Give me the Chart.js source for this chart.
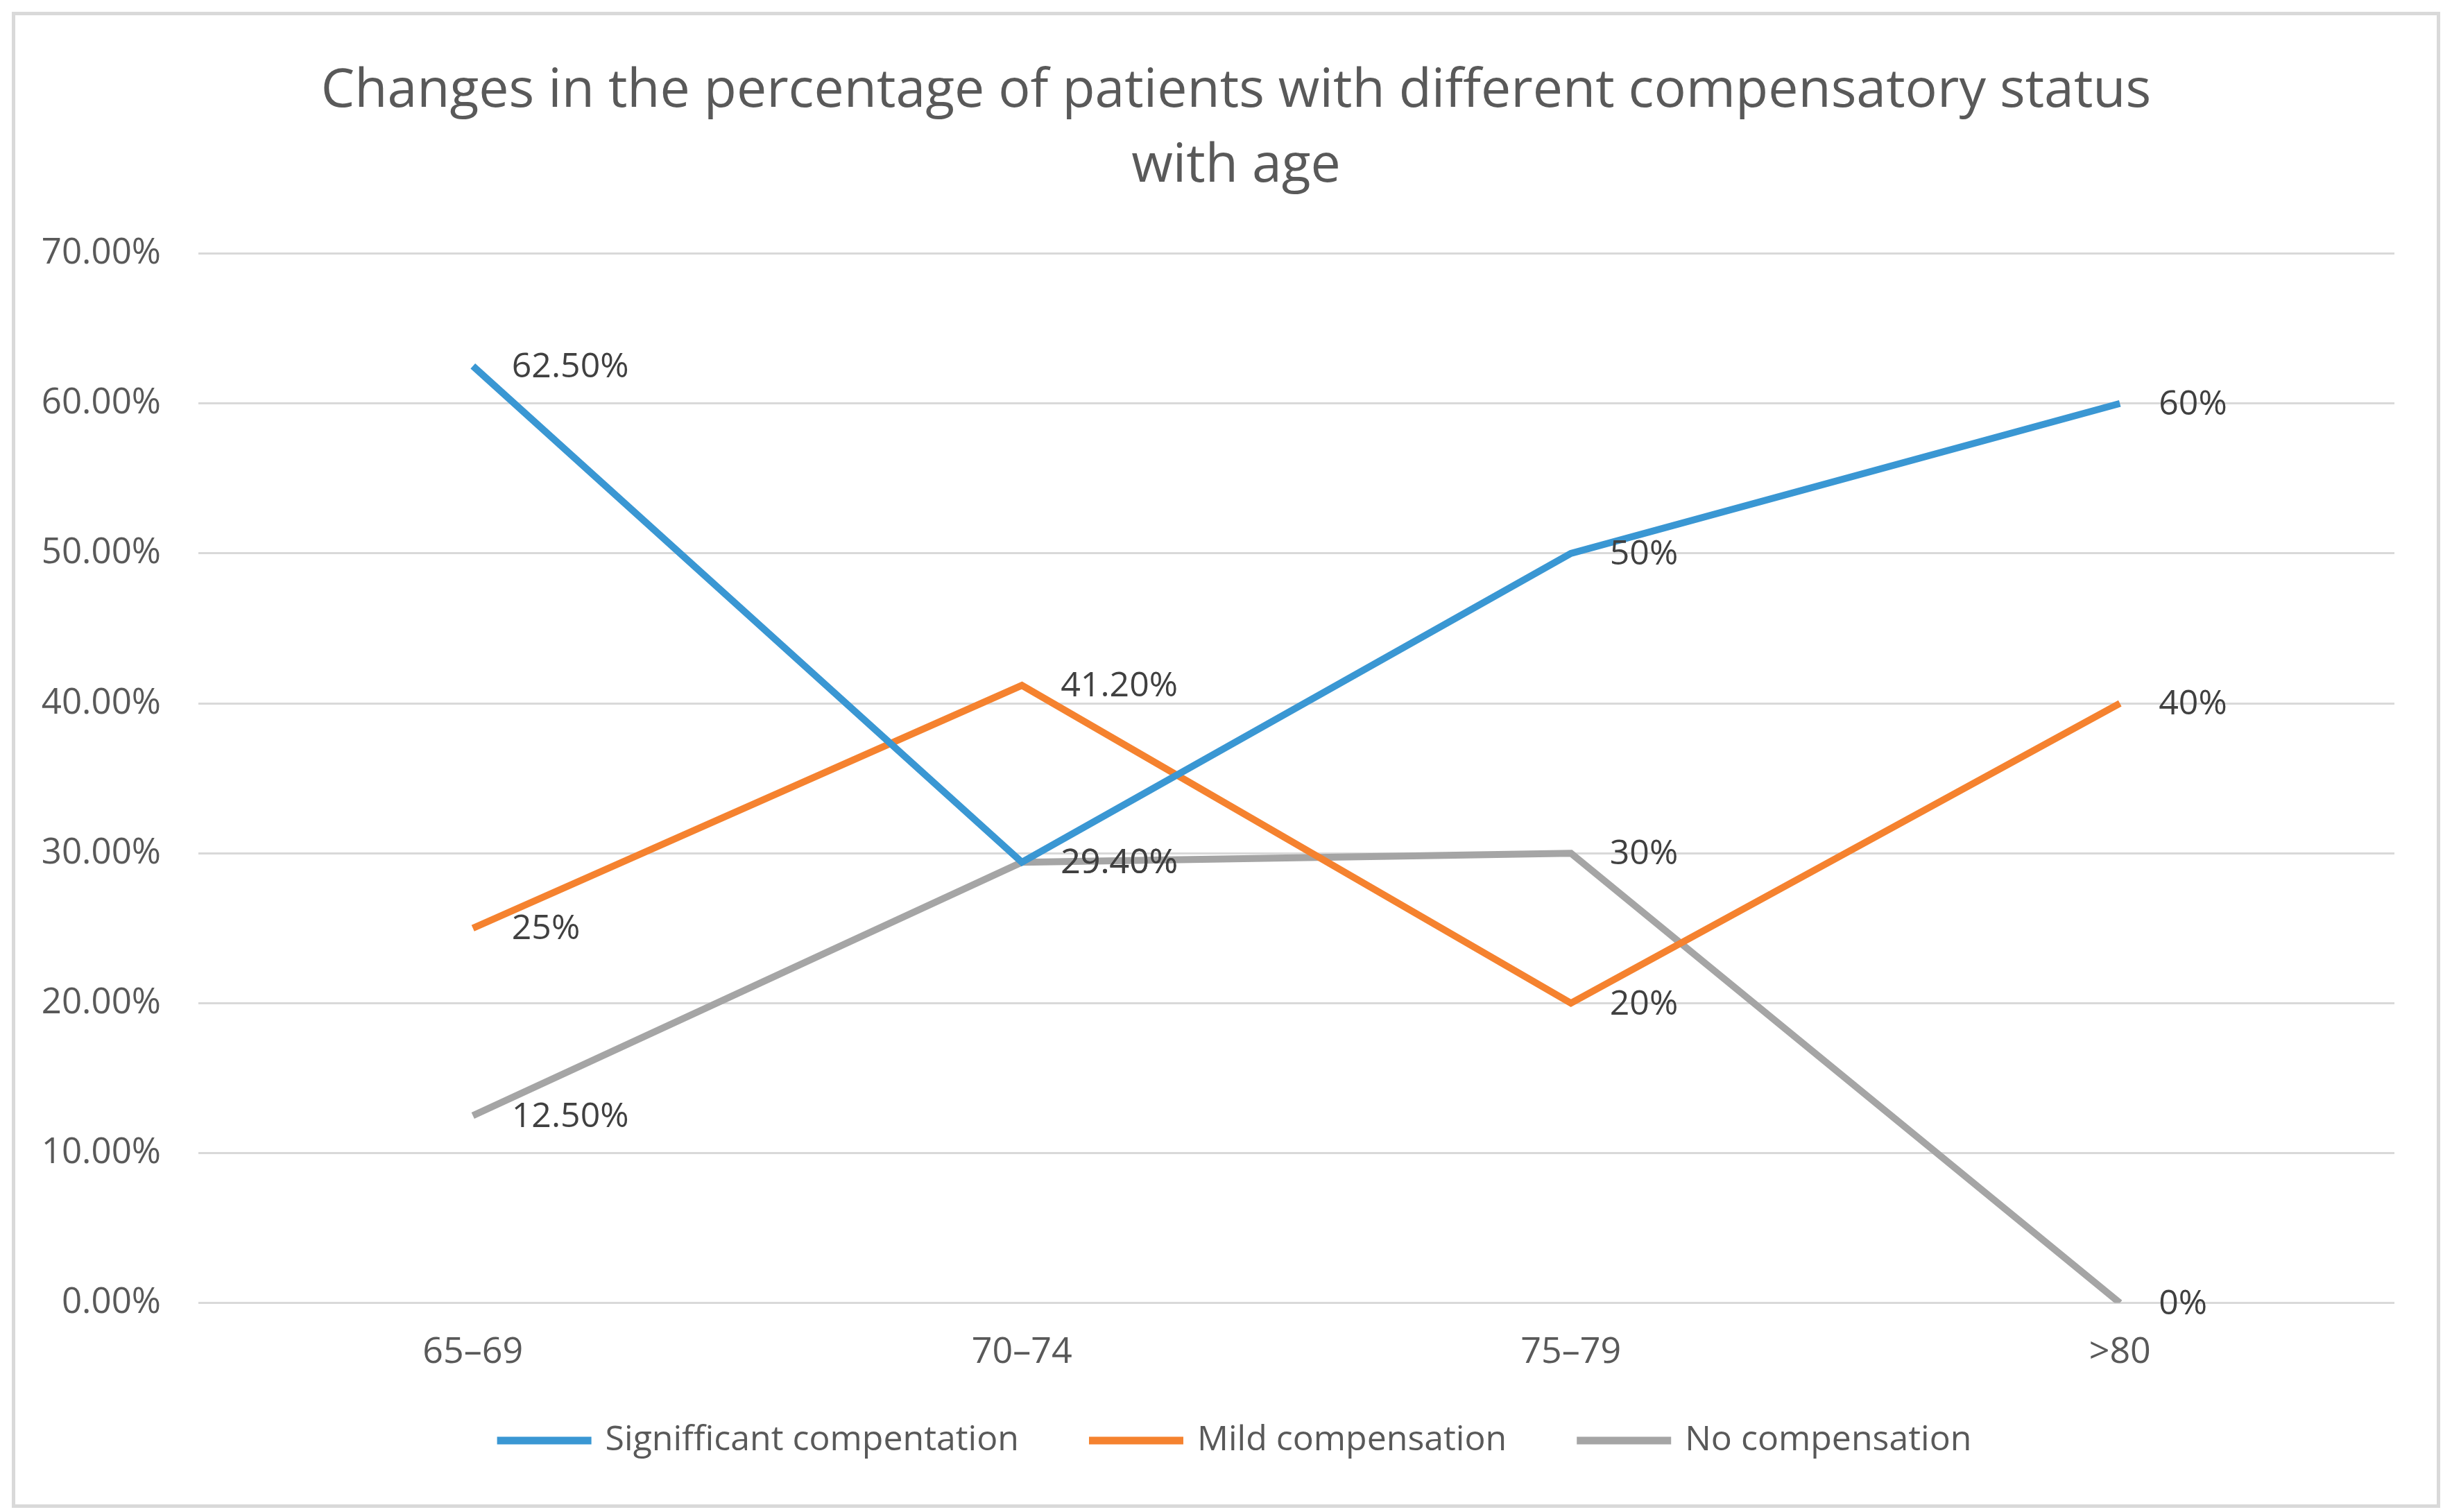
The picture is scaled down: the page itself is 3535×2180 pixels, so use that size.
<!DOCTYPE html>
<html>
<head>
<meta charset="utf-8">
<script src="https://cdn.jsdelivr.net/npm/chart.js@4"></script>
<style>
  html, body { margin: 0; padding: 0; background: #ffffff; }
  #frame { position: absolute; left: 17px; top: 17px; width: 3491px; height: 2147px; border: 5px solid #d9d9d9; background: #fff; }
  #c { display: block; }
</style>
</head>
<body>
<div id="frame"><canvas id="c" width="3491" height="2147"></canvas></div>
<script>
const categories = ["65\u201369", "70\u201374", "75\u201379", ">80"];
const seriesNames = ["Signifficant compentation", "Mild compensation", "No compensation"];
const significant = [62.5, 29.4, 50, 60];
const mild = [25, 41.2, 20, 40];
const none = [12.5, 29.4, 30, 0];
const significantLabels = ["62.50%", "29.40%", "50%", "60%"];
const mildLabels = ["25%", "41.20%", "20%", "40%"];
const noneLabels = ["12.50%", "29.40%", "30%", "0%"];
const titleLines = ["Changes in the percentage of patients with different compensatory status", "with age"];

const FONT = "'Open Sans', 'Noto Sans', sans-serif";
const colors = ["#3A97D3", "#F5822F", "#A5A5A5"];
const Y_FONT_SIZE = 51;
const fmtY = v => v.toFixed(2) + "%";

// widest y tick label, so the labels can be right-aligned 54px left of the plot
const mctx = document.createElement('canvas').getContext('2d');
mctx.font = Y_FONT_SIZE + "px " + FONT;
const yWidest = mctx.measureText(fmtY(70)).width;

const dataLabelPlugin = {
  id: 'dataLabels',
  afterDatasetsDraw(chart) {
    const ctx = chart.ctx;
    ctx.save();
    ctx.font = "50px " + FONT;
    ctx.fillStyle = "#404040";
    ctx.textAlign = "left";
    ctx.textBaseline = "middle";
    chart.data.datasets.forEach((ds, i) => {
      const meta = chart.getDatasetMeta(i);
      meta.data.forEach((pt, j) => {
        ctx.fillText(ds.pointLabels[j], pt.x + 56, pt.y + 2);
      });
    });
    ctx.restore();
  }
};

new Chart(document.getElementById('c'), {
  type: 'line',
  data: {
    labels: categories,
    datasets: [
      { label: seriesNames[0], data: significant, pointLabels: significantLabels, borderColor: colors[0], backgroundColor: colors[0] },
      { label: seriesNames[1], data: mild, pointLabels: mildLabels, borderColor: colors[1], backgroundColor: colors[1] },
      { label: seriesNames[2], data: none, pointLabels: noneLabels, borderColor: colors[2], backgroundColor: colors[2] }
    ].map(d => Object.assign(d, { borderWidth: 10, pointRadius: 0, tension: 0, fill: false, borderJoinStyle: 'miter' }))
  },
  options: {
    responsive: false,
    animation: false,
    devicePixelRatio: 1,
    layout: { padding: { left: 90, right: 61, top: 0, bottom: 57 } },
    plugins: {
      tooltip: { enabled: false },
      title: {
        display: true,
        text: titleLines,
        color: "#595959",
        font: { family: FONT, size: 77, weight: 'normal', lineHeight: 1.4 },
        padding: { top: 56, bottom: 72 }
      },
      legend: {
        position: 'bottom',
        labels: {
          color: "#595959",
          font: { family: FONT, size: 50 },
          boxWidth: 126,
          boxHeight: 1,
          padding: 31,
          generateLabels(chart) {
            const items = Chart.defaults.plugins.legend.labels.generateLabels(chart);
            return items.map((it, i) => {
              if (i < items.length - 1) it.text = it.text + "\u2002\u2002\u2002";
              return it;
            });
          }
        }
      }
    },
    scales: {
      x: {
        offset: true,
        grid: { display: false, drawTicks: false },
        border: { display: false },
        ticks: { color: "#595959", font: { family: FONT, size: 52 }, padding: 40, maxRotation: 0 }
      },
      y: {
        min: 0, max: 70,
        afterFit(scale) { scale.width = 174; },
        grid: { color: "#d9d9d9", lineWidth: 3, drawTicks: false },
        border: { display: false },
        ticks: {
          stepSize: 10,
          mirror: true,
          crossAlign: 'far',
          color: "#595959",
          font: { family: FONT, size: Y_FONT_SIZE },
          padding: -(54 + yWidest),
          callback: v => fmtY(v)
        }
      }
    }
  },
  plugins: [dataLabelPlugin]
});
</script>
</body>
</html>
